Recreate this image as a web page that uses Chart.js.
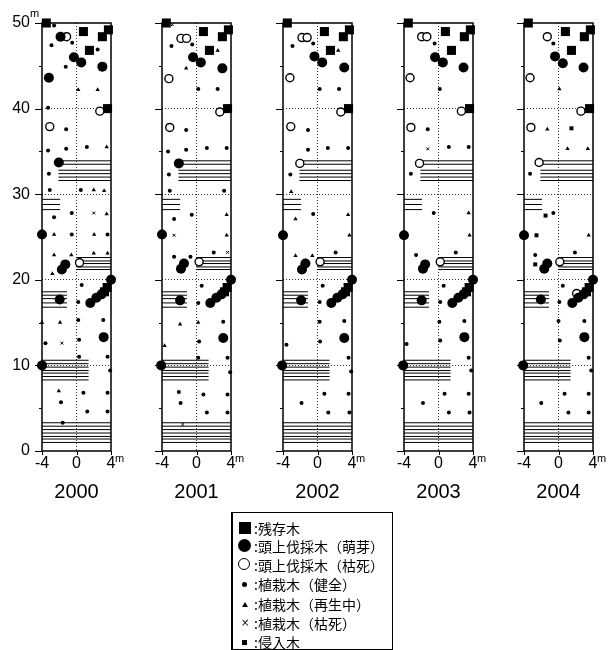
<!DOCTYPE html>
<html>
<head>
<meta charset="utf-8">
<script src="https://cdn.jsdelivr.net/npm/chart.js@4.4.1/dist/chart.umd.min.js"></script>
<style>
body { margin: 0; background: #fff; }
#wrap { position: relative; width: 616px; height: 650px; }
#wrap canvas { position: absolute; left: 0; top: 0; }
#legend { position: absolute; left: 231px; top: 512px; width: 159px; height: 136px; border: 1px solid #000; border-left-width: 2px;
  font-family: "Noto Sans CJK JP", "Noto Sans"; font-size: 14px; color: #000; }
.row { position: absolute; left: 0; width: 159px; height: 19px; line-height: 19px; }
.row span.t { position: absolute; left: 21px; }
.sym { position: absolute; background: #000; }
</style>
</head>
<body>
<div id="wrap">
  <canvas id="p0" width="616" height="650"></canvas>
  <canvas id="p1" width="616" height="650"></canvas>
  <canvas id="p2" width="616" height="650"></canvas>
  <canvas id="p3" width="616" height="650"></canvas>
  <canvas id="p4" width="616" height="650"></canvas>
  <div id="legend">
    <div class="row" style="top:6px"><i class="sym" style="left:6px;top:3px;width:12px;height:12px"></i><span class="t">:残存木</span></div>
    <div class="row" style="top:24px"><i class="sym" style="left:5px;top:2px;width:13px;height:13px;border-radius:50%"></i><span class="t">:頭上伐採木（萌芽）</span></div>
    <div class="row" style="top:43px"><i class="sym" style="left:5px;top:2px;width:10px;height:10px;border-radius:50%;background:#fff;border:1.5px solid #000"></i><span class="t">:頭上伐採木（枯死）</span></div>
    <div class="row" style="top:62px"><i class="sym" style="left:9px;top:7px;width:5px;height:5px;border-radius:50%"></i><span class="t">:植栽木（健全）</span></div>
    <div class="row" style="top:82px"><i class="sym" style="left:9px;top:7px;width:6px;height:5px;clip-path:polygon(50% 0,100% 100%,0 100%)"></i><span class="t">:植栽木（再生中）</span></div>
    <div class="row" style="top:101px"><span style="position:absolute;left:8px;top:-1px;font-size:10px;font-family:'DejaVu Sans'">×</span><span class="t">:植栽木（枯死）</span></div>
    <div class="row" style="top:120px"><i class="sym" style="left:9px;top:7px;width:5px;height:5px"></i><span class="t">:侵入木</span></div>
  </div>
</div>
<script>
const years = ['2000', '2001', '2002', '2003', '2004'];
const plotLeft = [42, 162, 283, 404, 524];
const yTickMarks = [0, 5, 10, 15, 20, 25, 30, 35, 40, 45, 50];
const xTickMarks = [-4, 0, 4];

// 残存木 (same in every year)
const remnant = [[-3.5, 50], [0.8, 49.0], [3.0, 48.4], [3.7, 49.2], [1.5, 46.8], [3.6, 40.0], [3.55, 19.1], [3.25, 18.6]];
// 頭上伐採木（萌芽） along the diagonal near 20 m (same every year)
const coppiceDiag = [[4.0, 20.0], [2.9, 18.3], [2.3, 17.9], [1.6, 17.3]];

// 頭上伐採木（萌芽）
const coppice2000 = [[-1.85, 48.4], [-0.3, 46.0], [0.55, 45.4], [3.0, 44.9], [-3.2, 43.6], [-2.05, 33.7], [-4, 25.3], [-1.3, 21.8], [-1.7, 21.2], [-1.95, 17.7], [3.15, 13.3], [-4, 10.0]];
const coppice2001 = [[-0.4, 46.0], [0.5, 45.4], [3.0, 44.7], [-2.05, 33.6], [-4, 25.3], [-1.45, 21.9], [-1.8, 21.3], [-1.9, 17.6], [3.1, 13.2], [-4.1, 10.0]];
const coppice2002 = [[-0.35, 46.1], [0.55, 45.4], [3.1, 44.8], [-4, 25.2], [-1.4, 21.9], [-1.8, 21.2], [-1.9, 17.6], [3.1, 13.2], [-4.1, 10.0]];
const coppice2003 = [[-0.4, 46.0], [0.5, 45.4], [2.9, 44.8], [-4, 25.2], [-1.55, 21.8], [-1.8, 21.3], [-1.95, 17.6], [3.0, 13.3], [-4.1, 10.0]];
const coppice2004 = [[-0.4, 46.1], [0.5, 45.3], [2.9, 44.8], [-4, 25.2], [-1.3, 21.9], [-1.65, 21.3], [-2.05, 17.7], [3.0, 13.3], [-4.1, 10.0]];

// 頭上伐採木（枯死）
const deadCut2000 = [[-1.15, 48.4], [2.7, 39.7], [-3.1, 37.9], [0.35, 22.0]];
const deadCut2001 = [[-1.8, 48.2], [-1.15, 48.2], [-3.2, 43.5], [2.7, 39.6], [-3.1, 37.8], [0.3, 22.1]];
const deadCut2002 = [[-1.8, 48.3], [-1.2, 48.3], [-3.2, 43.6], [2.7, 39.6], [-3.1, 37.9], [-2.05, 33.6], [0.3, 22.1]];
const deadCut2003 = [[-1.95, 48.4], [-1.35, 48.4], [-3.3, 43.6], [2.65, 39.7], [-3.2, 37.8], [-2.2, 33.6], [0.2, 22.1]];
const deadCut2004 = [[-1.3, 48.4], [-3.3, 43.6], [2.6, 39.7], [-3.2, 37.8], [-2.25, 33.7], [0.15, 22.1], [2.1, 18.4]];

// 植栽木（健全）
const healthy2000 = [[-2.6, 49.7], [-2.9, 47.4], [-0.5, 47.7], [-1.25, 44.9], [2.45, 46.9], [-3.3, 40.1], [-1.2, 37.6], [-3.3, 35.1], [-1.2, 35.3], [1.2, 35.5], [-3.2, 32.4], [-3.1, 30.5], [0.5, 30.5], [-0.55, 27.8], [-2.6, 27.3], [-0.55, 25.3], [3.6, 25.3], [0.6, 19.4], [0.2, 17.4], [0.2, 15.3], [3.1, 15.3], [0.3, 13.0], [-3.6, 12.6], [0.3, 11.0], [3.6, 11.0], [3.9, 9.4], [0.8, 6.8], [3.6, 6.8], [-1.8, 5.7], [1.25, 4.6], [3.6, 4.6], [-1.6, 3.3]];
const healthy2001 = [[-2.9, 47.3], [-0.5, 47.5], [0.2, 42.3], [2.45, 42.3], [-1.2, 37.5], [-3.3, 35.0], [-1.2, 35.2], [1.2, 35.4], [3.5, 35.4], [-3.2, 32.3], [-3.1, 30.4], [3.2, 30.4], [-2.6, 27.1], [-0.55, 27.6], [-2.6, 22.7], [-0.7, 22.7], [2.0, 23.2], [0.6, 19.3], [0.2, 17.3], [3.1, 15.1], [0.3, 12.8], [0.2, 10.9], [3.6, 10.9], [3.9, 9.2], [-2.05, 6.9], [0.8, 6.6], [3.6, 6.6], [-1.85, 5.6], [1.2, 4.5], [3.6, 4.5]];
const healthy2002 = [[-2.9, 47.3], [-0.5, 47.6], [0.25, 42.3], [2.5, 42.3], [-1.1, 37.5], [-1.1, 35.2], [1.2, 35.4], [3.55, 35.4], [-3.15, 32.3], [-0.5, 27.7], [2.1, 23.2], [0.6, 19.3], [0.25, 17.4], [0.25, 15.1], [3.1, 15.2], [0.3, 12.8], [-3.6, 12.4], [3.6, 10.9], [3.9, 9.3], [0.8, 6.7], [3.6, 6.7], [-1.85, 5.6], [1.25, 4.5], [3.7, 4.5]];
const healthy2003 = [[-0.45, 47.6], [0.15, 42.3], [-1.25, 37.6], [1.2, 35.5], [3.5, 35.5], [-3.2, 32.4], [-0.55, 27.8], [-2.6, 22.9], [2.0, 23.2], [0.6, 19.3], [0.2, 17.4], [0.1, 15.1], [3.0, 15.2], [0.2, 12.9], [-3.7, 12.5], [3.5, 10.9], [3.8, 9.4], [0.7, 6.7], [3.5, 6.7], [-1.8, 5.6], [1.2, 4.5], [3.6, 4.5]];
const healthy2004 = [[-0.6, 47.6], [-3.3, 32.4], [-0.6, 27.8], [-2.7, 22.9], [1.9, 23.2], [0.5, 19.3], [0.1, 17.4], [0.0, 15.2], [3.0, 15.2], [0.15, 12.9], [3.5, 10.9], [3.8, 9.4], [0.7, 6.7], [3.5, 6.7], [-2.0, 5.6], [1.15, 4.5], [3.5, 4.5]];

// 植栽木（再生中）
const regrow2000 = [[0.2, 42.2], [2.45, 42.2], [3.5, 35.5], [2.0, 30.5], [3.2, 30.4], [3.5, 27.7], [-2.6, 25.3], [2.05, 25.3], [-2.6, 22.9], [-0.6, 22.9], [2.0, 23.1], [3.6, 23.1], [-2.8, 20.7], [-4, 15.0], [-1.9, 15.0], [-2.05, 7.0]];
const regrow2001 = [[2.45, 46.8], [-1.2, 44.7], [3.5, 27.6], [3.5, 25.2], [0.2, 15.0], [-1.9, 14.8], [-3.7, 12.3]];
const regrow2002 = [[2.4, 46.8], [-3.05, 30.3], [-2.55, 27.1], [3.55, 27.6], [3.7, 25.2], [-2.55, 22.8], [-0.6, 22.8]];
const regrow2003 = [[3.5, 27.8], [3.6, 25.2]];
const regrow2004 = [[0.1, 42.3], [-1.3, 37.6], [1.05, 35.3], [3.4, 35.3], [3.5, 25.2]];

// 植栽木（枯死）
const plantDead2000 = [[2.0, 27.8], [-1.7, 12.6]];
const plantDead2001 = [[-2.8, 49.8], [-2.6, 25.2], [3.6, 23.2], [-1.6, 3.1]];
const plantDead2002 = [];
const plantDead2003 = [[-1.25, 35.3]];
const plantDead2004 = [];

// 侵入木
const invader2000 = [];
const invader2001 = [];
const invader2002 = [];
const invader2003 = [];
const invader2004 = [[1.5, 37.7], [-1.5, 27.5], [-2.55, 25.2], [-2.7, 21.8]];

// hatched strips: [x from, x to, y]
const hatchLines = [
  [-2.0, 4, 33.9], [-2.0, 4, 33.5], [-2.1, 4, 32.8], [-2.1, 4, 32.4], [-2.1, 4, 32.0], [-2.1, 4, 31.6],
  [-4, -1.9, 29.4], [-4, -1.9, 28.8], [-4, -1.9, 28.2],
  [0, 4, 22.6], [0, 4, 22.2], [0, 4, 21.9], [0, 4, 21.5], [0, 4, 21.2],
  [-4, -1.1, 18.6], [-4, -1.1, 18.2], [-4, -1.1, 17.8], [-4, -1.1, 17.3], [-4, -1.1, 16.8],
  [-4, 1.4, 10.6], [-4, 1.4, 10.2], [-4, 1.4, 9.8], [-4, 1.4, 9.4], [-4, 1.4, 9.1], [-4, 1.4, 8.7], [-4, 1.4, 8.3],
  [-4, 4, 3.3], [-4, 4, 2.9], [-4, 4, 2.5], [-4, 4, 2.1], [-4, 4, 1.7], [-4, 4, 1.4], [-4, 4, 1.0]
];

const coppiceByYear = [coppice2000, coppice2001, coppice2002, coppice2003, coppice2004];
const deadCutByYear = [deadCut2000, deadCut2001, deadCut2002, deadCut2003, deadCut2004];
const healthyByYear = [healthy2000, healthy2001, healthy2002, healthy2003, healthy2004];
const regrowByYear = [regrow2000, regrow2001, regrow2002, regrow2003, regrow2004];
const plantDeadByYear = [plantDead2000, plantDead2001, plantDead2002, plantDead2003, plantDead2004];
const invaderByYear = [invader2000, invader2001, invader2002, invader2003, invader2004];

const AXIS_FONT = 'Liberation Sans';
const PLOT_W = 69, PLOT_TOP = 23, PLOT_BOTTOM = 451, Y_AXIS_W = 40, X_AXIS_H = 53;

function pts(a) { return a.map(p => ({ x: p[0], y: p[1] })); }
function segs(a) {
  const out = [];
  a.forEach(s => { out.push({ x: s[0], y: s[2] }, { x: s[1], y: s[2] }, { x: null, y: null }); });
  return out;
}

const framePlugin = {
  id: 'frame',
  beforeDatasetsDraw(chart) {
    const { ctx, chartArea: a } = chart;
    const xs = chart.scales.x, ys = chart.scales.y;
    ctx.save();
    ctx.strokeStyle = '#000';
    ctx.lineWidth = 1.5;
    ctx.strokeRect(a.left, a.top, a.right - a.left, a.bottom - a.top);
    ctx.lineWidth = 1;
    ctx.beginPath();
    yTickMarks.forEach(v => {
      const y = Math.round(ys.getPixelForValue(v)) + 0.5;
      const len = v % 10 === 0 ? 7 : 3;
      ctx.moveTo(a.left - len, y);
      ctx.lineTo(a.left, y);
    });
    xTickMarks.forEach(v => {
      const x = Math.round(xs.getPixelForValue(v)) + 0.5;
      ctx.moveTo(x, a.bottom);
      ctx.lineTo(x, a.bottom + 4);
    });
    ctx.stroke();
    ctx.restore();
  },
  afterDraw(chart) {
    const { ctx } = chart;
    const xs = chart.scales.x;
    ctx.save();
    ctx.fillStyle = '#000';
    ctx.font = '11px "' + AXIS_FONT + '"';
    ctx.textBaseline = 'alphabetic';
    ctx.fillText('m', xs.getPixelForValue(4) + 4, 462);
    if (chart.canvas.id === 'p0') ctx.fillText('m', 30, 17);
    ctx.restore();
  }
};

function makePanel(k) {
  const left = plotLeft[k];
  new Chart(document.getElementById('p' + k), {
    type: 'scatter',
    data: {
      datasets: [
        { data: pts(remnant), pointStyle: 'rect', pointRadius: 6.4, backgroundColor: '#000', borderWidth: 0, order: 1 },
        { data: pts(coppiceByYear[k].concat(coppiceDiag)), pointStyle: 'circle', pointRadius: 5, backgroundColor: '#000', borderWidth: 0, order: 2 },
        { data: pts(deadCutByYear[k]), pointStyle: 'circle', pointRadius: 4, backgroundColor: '#fff', borderColor: '#000', borderWidth: 1.4, order: 3 },
        { data: pts(healthyByYear[k]), pointStyle: 'circle', pointRadius: 2, backgroundColor: '#000', borderWidth: 0, order: 4 },
        { data: pts(regrowByYear[k]), pointStyle: 'triangle', pointRadius: 2.5, backgroundColor: '#000', borderWidth: 0, order: 4 },
        { data: pts(plantDeadByYear[k]), pointStyle: 'crossRot', pointRadius: 2, borderColor: '#000', borderWidth: 1, order: 4 },
        { data: pts(invaderByYear[k]), pointStyle: 'rect', pointRadius: 2.8, backgroundColor: '#000', borderWidth: 0, order: 4 },
        { data: segs(hatchLines), showLine: true, spanGaps: false, pointRadius: 0, borderColor: '#000', borderWidth: 1, order: 9 }
      ].map(d => Object.assign({ clip: false }, d))
    },
    options: {
      responsive: false,
      animation: false,
      events: [],
      layout: { padding: { left: left - Y_AXIS_W, right: 616 - left - PLOT_W, top: PLOT_TOP, bottom: 650 - PLOT_BOTTOM - X_AXIS_H } },
      plugins: { legend: { display: false }, tooltip: { enabled: false } },
      scales: {
        x: {
          type: 'linear', min: -4, max: 4,
          afterFit: s => { s.height = X_AXIS_H; },
          ticks: { stepSize: 4, padding: 3, color: '#000', font: { family: AXIS_FONT, size: 16 } },
          grid: { drawTicks: false, lineWidth: 1, color: c => (c.tick && c.tick.value === 0) ? '#333' : 'rgba(0,0,0,0)' },
          border: { display: false, dash: [1, 2] },
          title: { display: true, text: years[k], color: '#000', padding: 0, font: { family: AXIS_FONT, size: 20 } }
        },
        y: {
          type: 'linear', min: 0, max: 50,
          afterFit: s => { s.width = Y_AXIS_W; },
          ticks: { display: k === 0, stepSize: 10, padding: 12, color: '#000', font: { family: AXIS_FONT, size: 16 } },
          grid: { drawTicks: false, lineWidth: 1, color: c => (c.tick && (c.tick.value === 0 || c.tick.value === 50)) ? 'rgba(0,0,0,0)' : '#333' },
          border: { display: false, dash: [1, 2] }
        }
      }
    },
    plugins: [framePlugin]
  });
}

years.forEach((y, k) => makePanel(k));
</script>
</body>
</html>
